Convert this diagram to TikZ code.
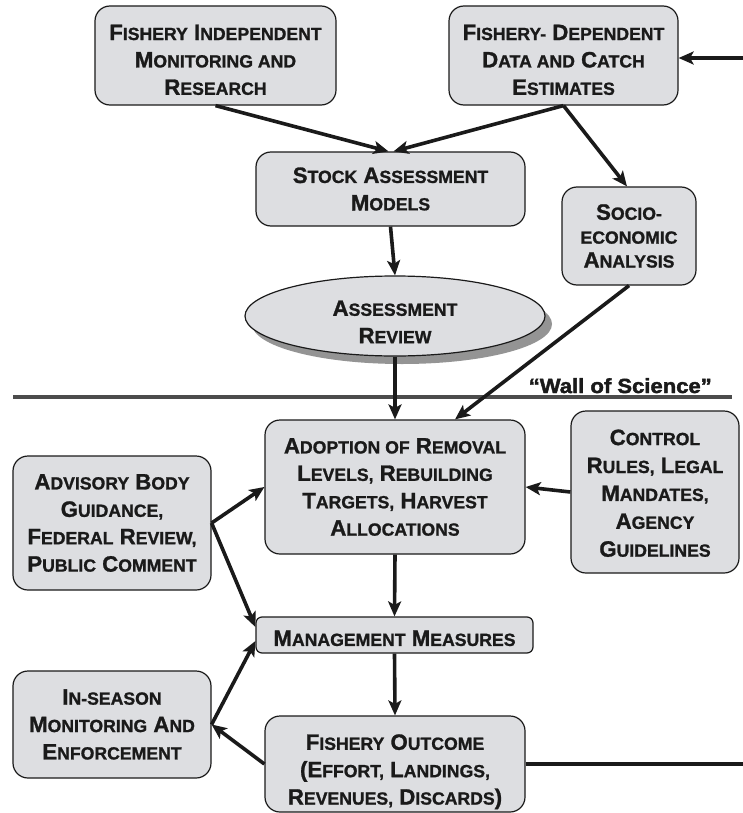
\documentclass[tikz,border=0pt]{standalone}
\usepackage{fontspec}
\setmainfont{Liberation Sans}[BoldFeatures={FakeBold=1.2}]
\newfontfamily\wallfont{Liberation Sans}[FakeStretch=1.08, BoldFeatures={FakeBold=2}]
\usetikzlibrary{arrows.meta,calc,shadows,shapes.geometric}
\definecolor{boxfill}{RGB}{221,222,225}
\definecolor{ink}{RGB}{26,26,26}
\newcommand\sk[2]{#1{\fontsize{17.7}{27.5}\selectfont #2}}
\newcommand\tp[1]{\rule{0pt}{#1bp}}
\tikzset{
  box/.style={draw=ink, line width=1.2bp, fill=boxfill, rounded corners=15bp,
    align=center, inner sep=0pt, font=\fontsize{22.3}{27.5}\selectfont\bfseries, text=ink},
  arr/.style={draw=ink, line width=3.6bp, -{Stealth[length=15bp,width=13bp,inset=3.5bp]}},
  plain/.style={draw=ink, line width=4bp},
  wall/.style={draw=black!70, line width=4bp}
}
\begin{document}
\begin{tikzpicture}[x=1bp,y=-1bp]
\useasboundingbox (0,0) rectangle (743,813);
% nodes
\node[box, minimum width=241bp, minimum height=99bp] (FI) at (215.5,55.5)
  {\tp{24}\sk{F}{ISHERY} \sk{I}{NDEPENDENT}\\ \sk{M}{ONITORING AND}\\ \sk{R}{ESEARCH}};
\node[box, minimum width=229bp, minimum height=99bp] (FD) at (563.5,55.5)
  {\tp{24}\sk{F}{ISHERY-} \sk{D}{EPENDENT}\\ \sk{D}{ATA AND} \sk{C}{ATCH}\\ \sk{E}{STIMATES}};
\node[box, minimum width=269bp, minimum height=74bp] (SA) at (390.5,189)
  {\sk{S}{TOCK} \sk{A}{SSESSMENT}\\ \sk{M}{ODELS}};
\node[box, minimum width=134bp, minimum height=98bp, font=\fontsize{22.3}{24}\selectfont\bfseries] (SE) at (629,236)
  {\sk{S}{OCIO-}\\ \sk{}{ECONOMIC}\\ \sk{A}{NALYSIS}};
\node[box, ellipse, rounded corners=0pt, minimum width=300bp, minimum height=80bp,
  drop shadow={shadow xshift=7bp, shadow yshift=-8bp, fill=black!42, opacity=1}] (AR) at (395,316)
  {\tp{27}\sk{A}{SSESSMENT}\\ \sk{R}{EVIEW}};
\node[box, minimum width=260bp, minimum height=134bp] (AD) at (395,487)
  {\sk{A}{DOPTION OF} \sk{R}{EMOVAL}\\ \sk{L}{EVELS,} \sk{R}{EBUILDING}\\ \sk{T}{ARGETS,} \sk{H}{ARVEST}\\ \sk{A}{LLOCATIONS}};
\node[box, minimum width=168bp, minimum height=162bp, font=\fontsize{22.3}{28}\selectfont\bfseries] (CR) at (655,492)
  {\tp{18}\sk{C}{ONTROL}\\ \sk{R}{ULES,} \sk{L}{EGAL}\\ \sk{M}{ANDATES,}\\ \sk{A}{GENCY}\\ \sk{G}{UIDELINES}};
\node[box, minimum width=198bp, minimum height=134bp] (AB) at (112,523)
  {\sk{A}{DVISORY} \sk{B}{ODY}\\ \sk{G}{UIDANCE,}\\ \sk{F}{EDERAL} \sk{R}{EVIEW,}\\ \sk{P}{UBLIC} \sk{C}{OMMENT}};
\node[box, rounded corners=6bp, minimum width=277bp, minimum height=36bp] (MM) at (394.5,635)
  {\tp{22}\sk{M}{ANAGEMENT} \sk{M}{EASURES}};
\node[box, minimum width=198bp, minimum height=107bp] (IS) at (112,724.5)
  {\sk{I}{N-SEASON}\\ \sk{M}{ONITORING} \sk{A}{ND}\\ \sk{E}{NFORCEMENT}};
\node[box, minimum width=260bp, minimum height=96bp] (FO) at (395,764)
  {\tp{31}\sk{F}{ISHERY} \sk{O}{UTCOME}\\ (\sk{E}{FFORT,} \sk{L}{ANDINGS,}\\ \sk{R}{EVENUES,} \sk{D}{ISCARDS})};
% wall of science
\coordinate (wallL) at (13,397);
\coordinate (wallR) at (732,397);
\draw[wall] (wallL) -- (wallR);
\node[anchor=base east, inner sep=0pt, font=\wallfont\fontsize{20.5}{22}\selectfont\bfseries, text=ink] (WS) at (712,393) {“Wall of Science”};
% free ends
\coordinate (rtop) at (743,58);
\coordinate (rbot) at (743,764);
% connectors
\draw[arr] (rtop) -- ($(FD.east)+(0,2.5)$);
\draw[arr] (FI.south) -- ($(SA.north)+(-2,0)$);
\draw[arr] (FD.south) -- ($(SA.north)+(3,0)$);
\draw[arr] (FD.south) -- ($(SE.north)+(-2,0)$);
\draw[arr] (SA.south) -- (AR.north);
\draw[arr] (AR.south) -- (AD.north);
\draw[arr] (SE.south) -- ($(AD.north)+(60,0)$);
\draw[arr] (CR.west) -- (AD.east);
\draw[arr] (AB.east) -- (AD.west);
\draw[arr] (AB.east) -- ($(MM.west)+(0,-8)$);
\draw[arr] (AD.south) -- (MM.north);
\draw[arr] (MM.south) -- (FO.north);
\draw[arr] (IS.east) -- ($(MM.west)+(0,6)$);
\draw[arr] (FO.west) -- (IS.east);
\draw[plain] (FO.east) -- (rbot);
\end{tikzpicture}
\end{document}
